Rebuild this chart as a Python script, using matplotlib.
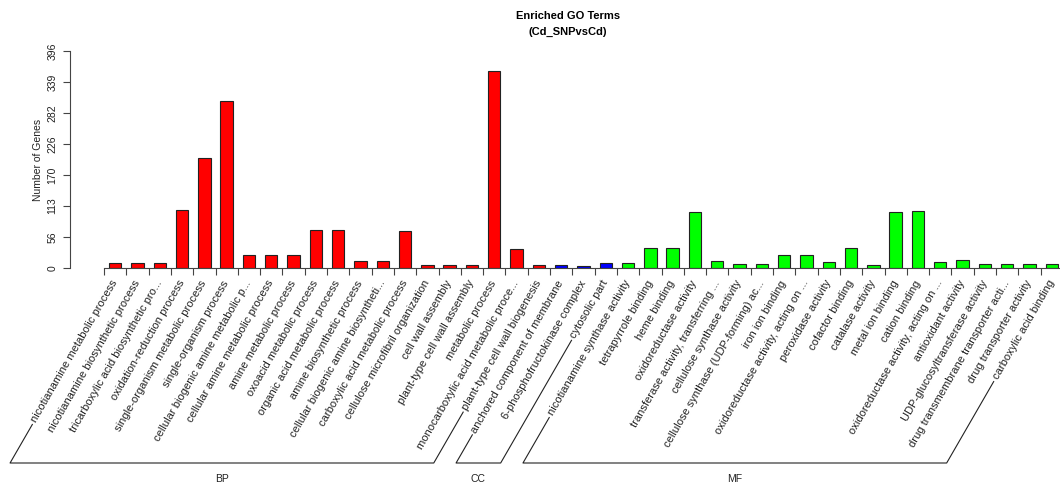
import numpy as np
import matplotlib
matplotlib.use("Agg")
import matplotlib.pyplot as plt
from matplotlib.lines import Line2D
from matplotlib.transforms import offset_copy

plt.rcParams['font.family'] = ['Liberation Sans', 'DejaVu Sans']

# GO terms per ontology, in plotting order
bp_terms = [
    "nicotianamine metabolic process",
    "nicotianamine biosynthetic process",
    "tricarboxylic acid biosynthetic pro...",
    "oxidation-reduction process",
    "single-organism metabolic process",
    "single-organism process",
    "cellular biogenic amine metabolic p...",
    "cellular amine metabolic process",
    "amine metabolic process",
    "oxoacid metabolic process",
    "organic acid metabolic process",
    "amine biosynthetic process",
    "cellular biogenic amine biosyntheti...",
    "carboxylic acid metabolic process",
    "cellulose microfibril organization",
    "cell wall assembly",
    "plant-type cell wall assembly",
    "metabolic process",
    "monocarboxylic acid metabolic proce...",
    "plant-type cell wall biogenesis",
]
bp_counts = [9, 9, 9, 105, 201, 305, 23, 23, 23, 69, 69, 12, 12, 67, 5, 5, 5, 360, 34, 5]

cc_terms = [
    "anchored component of membrane",
    "6-phosphofructokinase complex",
    "cytosolic part",
]
cc_counts = [5, 4, 10]

mf_terms = [
    "nicotianamine synthase activity",
    "tetrapyrrole binding",
    "heme binding",
    "oxidoreductase activity",
    "transferase activity, transferring ...",
    "cellulose synthase activity",
    "cellulose synthase (UDP-forming) ac...",
    "iron ion binding",
    "oxidoreductase activity, acting on ...",
    "peroxidase activity",
    "cofactor binding",
    "catalase activity",
    "metal ion binding",
    "cation binding",
    "oxidoreductase activity, acting on ...",
    "antioxidant activity",
    "UDP-glucosyltransferase activity",
    "drug transmembrane transporter acti...",
    "drug transporter activity",
    "carboxylic acid binding",
]
mf_counts = [10, 37, 37, 102, 13, 7, 7, 24, 24, 11, 37, 5, 102, 104, 11, 15, 7, 7, 7, 7]

groups = ["BP", "CC", "MF"]
group_colors = ["#FF0000", "#0000FF", "#00FF00"]
ytick_labels = ["0", "56", "113", "170", "226", "282", "339", "396"]

terms = bp_terms + cc_terms + mf_terms
counts = bp_counts + cc_counts + mf_counts
sizes = [len(bp_terms), len(cc_terms), len(mf_terms)]
colors = []
for c, n in zip(group_colors, sizes):
    colors += [c] * n

W, H = 1060, 488
fig = plt.figure(figsize=(W / 100, H / 100), dpi=100)

# plot region in pixels
x0_px, y0_px, top_px, pitch = 70, 268, 51, 22.3
first_px = 104
n = len(terms)
ax = fig.add_axes([x0_px / W, (H - y0_px) / H,
                   (first_px + n * pitch - x0_px) / W, (y0_px - top_px) / H])
ymax = 396
ax.set_ylim(0, ymax)
ax.set_xlim(-(first_px - x0_px) / pitch, n)

pos = np.arange(n) + 0.5
ax.bar(pos, counts, width=0.56, color=colors, edgecolor="#222222", linewidth=0.8)

for s in ["top", "right"]:
    ax.spines[s].set_visible(False)
ax.spines["left"].set_bounds(0, ymax)
ax.spines["bottom"].set_bounds(0, n)
ax.spines["left"].set_color("#444444")
ax.spines["bottom"].set_color("#444444")

ax.set_yticks(np.linspace(0, ymax, len(ytick_labels)))
ax.set_yticklabels(ytick_labels, rotation=90, va="center", fontsize=7.5, color="#222222")
ax.tick_params(axis="y", length=5, width=0.8, color="#444444", pad=4)
ax.set_xticks(np.arange(n + 1))
ax.set_xticklabels([])
ax.tick_params(axis="x", length=5, width=0.8, color="#444444")
ax.set_ylabel("Number of Genes", fontsize=7.5, color="#222222", labelpad=3)

fig.text(568 / W, 1 - 16 / H, "Enriched GO Terms", ha="center", va="center",
         fontsize=8, fontweight="bold")
fig.text(568 / W, 1 - 31.5 / H, "(Cd_SNPvsCd)", ha="center", va="center",
         fontsize=8, fontweight="bold")

# rotated term labels
ang = 60
fs = 8
renderer = fig.canvas.get_renderer()
lab_tr = offset_copy(ax.transData, fig=fig, x=0, y=-13, units="dots")
starts = []
for p, t in zip(pos, terms):
    txt = ax.text(p, 0, t, transform=lab_tr, rotation=ang, rotation_mode="anchor",
                  ha="right", va="center", fontsize=fs, color="#222222")
    tmp = fig.text(0, 0, t, fontsize=fs)
    w = tmp.get_window_extent(renderer).width
    tmp.remove()
    ax_px = lab_tr.transform((p, 0))
    starts.append((ax_px[0] - (w + 3) * np.cos(np.radians(ang)),
                   ax_px[1] - (w + 3) * np.sin(np.radians(ang))))

# brackets under each ontology
base_y = H - 463
k = 0
for g, m in zip(groups, sizes):
    sx1, sy1 = starts[k]
    sx2, sy2 = starts[k + m - 1]
    cot = 1 / np.tan(np.radians(ang))
    bx1 = sx1 - (sy1 - base_y) * cot
    bx2 = sx2 - (sy2 - base_y) * cot
    xs = np.array([sx1, bx1, bx2, sx2]) / W
    ys = np.array([sy1, base_y, base_y, sy2]) / H
    fig.add_artist(Line2D(xs, ys, transform=fig.transFigure, color="#222222", lw=0.8))
    fig.text((bx1 + bx2) / 2 / W, 9 / H, g, ha="center", va="center", fontsize=7.5,
             color="#222222")
    k += m

fig.savefig("out.png", dpi=100)
